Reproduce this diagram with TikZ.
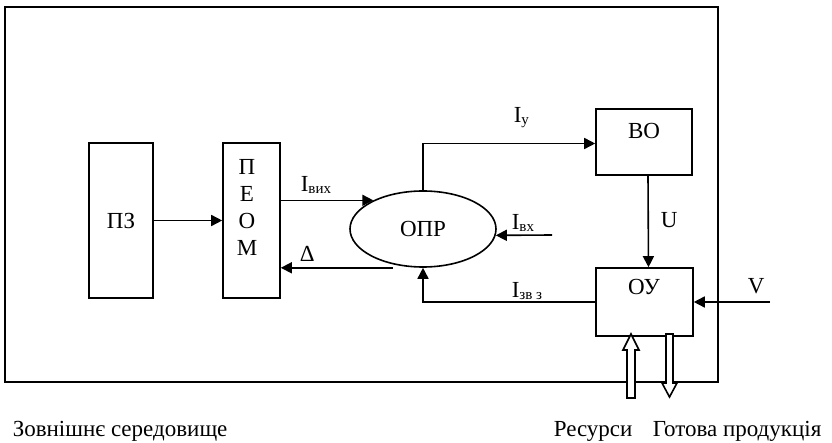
\documentclass[tikz,border=0pt]{standalone}
\usepackage{fontspec}
\setmainfont{Liberation Serif}
\usetikzlibrary{arrows.meta,positioning,shapes.geometric}
\newcommand{\lowidx}[1]{\raisebox{-1.5pt}{\fontsize{15pt}{15pt}\selectfont #1}}

\begin{document}
\begin{tikzpicture}[
            x=1pt, y=-1pt,
            line width=1.6pt,
            box/.style={draw, inner sep=0pt, font=\fontsize{23pt}{27pt}\selectfont},
            lbl/.style={inner sep=0pt, font=\fontsize{23pt}{27pt}\selectfont},
            >={Triangle[length=11pt,width=11pt]}
        ]
        \useasboundingbox (0,0) rectangle (832,443);
        \draw (5,7) rectangle (718,382);

        \node[box, minimum width=64pt, minimum height=155pt] (pz) at (121,220.5) {ПЗ};
        \node[box, minimum width=57pt, minimum height=155pt] (peom) at (251.5,220.5) {};
        \node[lbl, align=center, font=\fontsize{23pt}{27pt}\selectfont] (peomlbl) at (247,207) {П\\Е\\О\\М};
        \node[box, ellipse, minimum width=146pt, minimum height=76pt] (opr) at (423,229) {ОПР};
        \node[box, minimum width=96pt, minimum height=66pt] (bo) at (644,142) {};
        \node[lbl] (bolbl) at (644,131) {ВО};
        \node[box, minimum width=97pt, minimum height=68pt] (oy) at (644.5,302) {};
        \node[lbl] (oylbl) at (644,287) {ОУ};

        \coordinate (ivx) at (552,235);
        \coordinate (vin) at (770,302);

        \draw[->] (pz) -- (peom);
        \draw[->] (peom.east |- opr.150) -- (opr.150);
        \draw[->] ([xshift=-30pt]opr.south) -- (peom.east |- opr.south);
        \draw[->] (opr.north) |- ([yshift=-1.5pt]bo.west);
        \draw[->] ([xshift=4pt]bo.south) -- ([xshift=4pt]oy.north);
        \draw[->] (vin) -- (oy.east);
        \draw[->] (oy.west) -| (opr.south);
        \draw[->] (ivx) -- (opr.-5);

        \draw[fill=white] (631,334) -- (639,350) -- (635,350) -- (635,398) -- (627,398) -- (627,350) -- (623,350) -- cycle;
        \draw[fill=white] (666,334) -- (673,334) -- (673,383) -- (677,383) -- (669.5,397) -- (662,383) -- (666,383) -- cycle;

        \node[lbl, anchor=base west] (ivihlbl) at (300,192) {I\lowidx{вих}};
        \node[lbl, anchor=base west] (deltalbl) at (299,262) {Δ};
        \node[lbl, anchor=base west] (iylbl) at (513,123) {I\lowidx{у}};
        \node[lbl, anchor=base west] (ivxlbl) at (511,230) {I\lowidx{вх}};
        \node[lbl, anchor=base west] (izvlbl) at (511,298) {I\lowidx{зв з}};
        \node[lbl, anchor=base west] (ulbl) at (660,228) {U};
        \node[lbl, anchor=base west] (vlbl) at (747,294) {V};

        \node[lbl, anchor=base west] (env) at (12,436) {Зовнішнє середовище};
        \node[lbl, anchor=base west] (res) at (553,436) {Ресурси};
        \node[lbl, anchor=base west] (prod) at (652,436) {Готова продукція};
    \end{tikzpicture}
\end{document}
